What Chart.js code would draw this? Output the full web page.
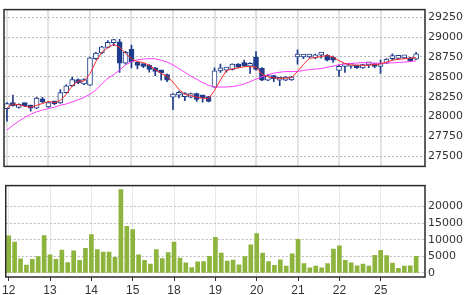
<!DOCTYPE html>
<html><head><meta charset="utf-8">
<script src="https://cdn.jsdelivr.net/npm/chart.js@4"></script>
<style>
html,body{margin:0;padding:0;background:#fff;overflow:hidden;width:470px;height:295px}
canvas{position:absolute;left:0}
#c1{top:0}
#c2{top:176px}
</style></head><body>
<canvas id="c1" width="470" height="176"></canvas>
<canvas id="c2" width="470" height="119"></canvas>
<script>
const dayLabels = ['12','13','14','15','18','19','20','21','22','25'];
const barsPerDay = 7;
const priceTicks = [27500,27750,28000,28250,28500,28750,29000,29250];
const volumeTicks = [0,5000,10000,15000,20000];

const open = [
28097,28172,28114,28152,28137,28106,28223,
28121,28184,28172,28301,28387,28465,28410,
28395,28730,28800,28871,28930,28941,28671,
28847,28680,28653,28645,28613,28574,28527,
28243,28268,28250,28243,28289,28240,28250,
28371,28574,28585,28594,28660,28645,28633,
28750,28606,28457,28516,28457,28457,28460,
28750,28750,28750,28738,28773,28770,28750,
28582,28630,28635,28633,28613,28650,28650,
28630,28671,28730,28733,28738,28738,28723];
const close = [
28164,28137,28152,28137,28106,28231,28184,
28176,28160,28301,28387,28465,28425,28465,
28738,28800,28879,28934,28940,28671,28809,
28691,28645,28630,28594,28568,28551,28457,
28281,28272,28289,28289,28214,28235,28191,
28574,28578,28590,28660,28621,28640,28671,
28594,28457,28516,28477,28489,28496,28500,
28755,28755,28755,28777,28778,28711,28711,
28633,28635,28638,28613,28653,28655,28630,
28635,28723,28735,28740,28742,28700,28789];
const high = [
28176,28270,28160,28160,28145,28240,28240,
28185,28190,28340,28400,28496,28475,28475,
28745,28810,28885,28957,28973,28973,28820,
28899,28690,28660,28655,28620,28580,28535,
28290,28320,28300,28295,28295,28250,28255,
28613,28660,28613,28665,28668,28711,28680,
28817,28615,28525,28520,28495,28505,28505,
28840,28777,28777,28785,28790,28780,28760,
28650,28645,28660,28640,28660,28670,28660,
28711,28730,28789,28760,28770,28745,28809];
const low = [
27941,28130,28105,28125,28067,28100,28175,
28115,28150,28165,28295,28380,28415,28400,
28390,28720,28790,28865,28894,28554,28660,
28613,28600,28615,28560,28515,28457,28440,
28086,28235,28200,28235,28190,28180,28185,
28365,28554,28560,28585,28615,28630,28543,
28585,28450,28450,28440,28387,28450,28455,
28660,28730,28740,28730,28735,28700,28680,
28504,28554,28610,28605,28605,28615,28615,
28543,28665,28710,28720,28730,28695,28715];
const maShort = [
28106,28158,28147,28129,28117,28141,28164,
28188,28176,28199,28281,28387,28445,28445,
28539,28691,28809,28867,28910,28871,28797,
28727,28691,28680,28645,28592,28545,28504,
28434,28340,28281,28264,28243,28231,28223,
28328,28457,28580,28598,28612,28627,28629,
28621,28533,28498,28486,28480,28484,28489,
28568,28656,28732,28744,28756,28768,28750,
28703,28668,28650,28645,28645,28645,28653,
28662,28685,28709,28721,28727,28735,28742];
const maLong = [
27830,27889,27941,27988,28029,28059,28082,
28100,28117,28141,28158,28182,28211,28240,
28281,28334,28410,28480,28527,28586,28650,
28691,28715,28723,28729,28727,28709,28686,
28650,28603,28557,28510,28469,28428,28392,
28371,28371,28371,28377,28390,28410,28439,
28471,28500,28527,28545,28558,28566,28566,
28567,28580,28592,28598,28604,28621,28635,
28650,28662,28668,28674,28680,28676,28674,
28671,28674,28676,28680,28686,28691,28700];
const volume = [
11180,9280,4260,2370,4070,4930,11270,
5490,4070,6910,3130,6630,3790,7390,
11550,7010,6250,6250,4740,25100,14020,
13070,5490,3790,2650,7010,4360,6160,
9280,4450,3030,1610,3320,3410,5020,
10700,5970,3600,3880,2460,4930,8430,
11840,5970,3410,2270,3980,2080,5780,
10130,2840,1520,2080,1520,2840,7200,
8150,3790,3030,2180,2650,2080,5300,
6820,5210,2940,1420,2080,2180,5020];

const dayStarts = dayLabels.map((_, k) => k * barsPerDay);
const n = open.length;
const NAVY = '#1e3c8c';

Chart.defaults.font.family = 'DejaVu Sans';
Chart.defaults.color = '#333';

const boxPlugin = {
  id: 'box',
  afterDraw(chart) {
    const {ctx, chartArea: a} = chart;
    ctx.save();
    ctx.strokeStyle = '#2a2a2a';
    ctx.lineWidth = 1.5;
    ctx.strokeRect(a.left, a.top, a.right - a.left, a.bottom - a.top);
    ctx.restore();
  }
};

const xBase = () => ({
  type: 'linear', min: -0.5, max: n + 0.5, offset: false,
  afterBuildTicks: s => { s.ticks = dayStarts.map(v => ({value: v})); }
});

new Chart(document.getElementById('c1'), {
  type: 'bar',
  data: {
    datasets: [
      { type: 'line', label: 'short', data: maShort.map((v, i) => ({x: i, y: v})),
        borderColor: '#ff2a2a', borderWidth: 1, pointRadius: 0, tension: 0, order: 0 },
      { type: 'line', label: 'long', data: maLong.map((v, i) => ({x: i, y: v})),
        borderColor: '#ff3cff', borderWidth: 1, pointRadius: 0, tension: 0, order: 1 },
      { label: 'body', data: open.map((o, i) => ({x: i, y: [Math.min(o, close[i]), Math.max(o, close[i])]})),
        backgroundColor: c => close[c.dataIndex] >= open[c.dataIndex] ? '#ffffff' : NAVY,
        borderColor: NAVY, borderWidth: 1, borderSkipped: false, barThickness: 5, minBarLength: 3,
        grouped: false, order: 2 },
      { label: 'wick', data: low.map((l, i) => ({x: i, y: [l, high[i]]})),
        backgroundColor: NAVY, barThickness: 1, grouped: false, order: 3 }
    ]
  },
  options: {
    responsive: false, animation: false, events: [],
    layout: { padding: { left: 4, top: 4, right: 0, bottom: 0 } },
    plugins: { legend: { display: false }, tooltip: { enabled: false } },
    scales: {
      x: Object.assign(xBase(), {
        ticks: { display: false },
        grid: { color: '#e3e3e3', lineWidth: 2, drawTicks: false, offset: false },
        border: { display: false },
        afterFit: s => { s.height = 4; }
      }),
      y: {
        position: 'right', min: 27371, max: 29347,
        afterBuildTicks: s => { s.ticks = priceTicks.map(v => ({value: v})); },
        ticks: { padding: 3, color: '#333', font: { size: 11 }, callback: v => String(v) },
        grid: { color: '#b8b8b8', drawTicks: false },
        border: { display: false, dash: [2, 2] },
        afterFit: s => { s.width = 45; }
      }
    }
  },
  plugins: [boxPlugin]
});

new Chart(document.getElementById('c2'), {
  type: 'bar',
  data: {
    datasets: [
      { label: 'volume', data: volume.map((v, i) => ({x: i, y: v})),
        backgroundColor: '#8db43c', barThickness: 4 }
    ]
  },
  options: {
    responsive: false, animation: false, events: [],
    layout: { padding: { left: 4, top: 4, right: 0, bottom: 0 } },
    plugins: { legend: { display: false }, tooltip: { enabled: false } },
    scales: {
      x: Object.assign(xBase(), {
        ticks: { padding: 2, color: '#333', font: { family: 'Liberation Sans', size: 12 }, maxRotation: 0, autoSkip: false,
          callback: (v, idx) => dayLabels[idx] },
        grid: { color: '#cfcfcf', tickColor: '#333', tickLength: 4, offset: false },
        border: { display: false, dash: [1, 1] },
        afterFit: s => { s.height = 18; }
      }),
      y: {
        position: 'right', min: -1220, max: 26300,
        afterBuildTicks: s => { s.ticks = volumeTicks.map(v => ({value: v})); },
        ticks: { padding: 3, color: '#333', font: { size: 11 }, callback: v => String(v) },
        grid: { color: '#b8b8b8', drawTicks: false },
        border: { display: false, dash: [2, 2] },
        afterFit: s => { s.width = 45; }
      }
    }
  },
  plugins: [boxPlugin]
});
</script>
</body></html>
